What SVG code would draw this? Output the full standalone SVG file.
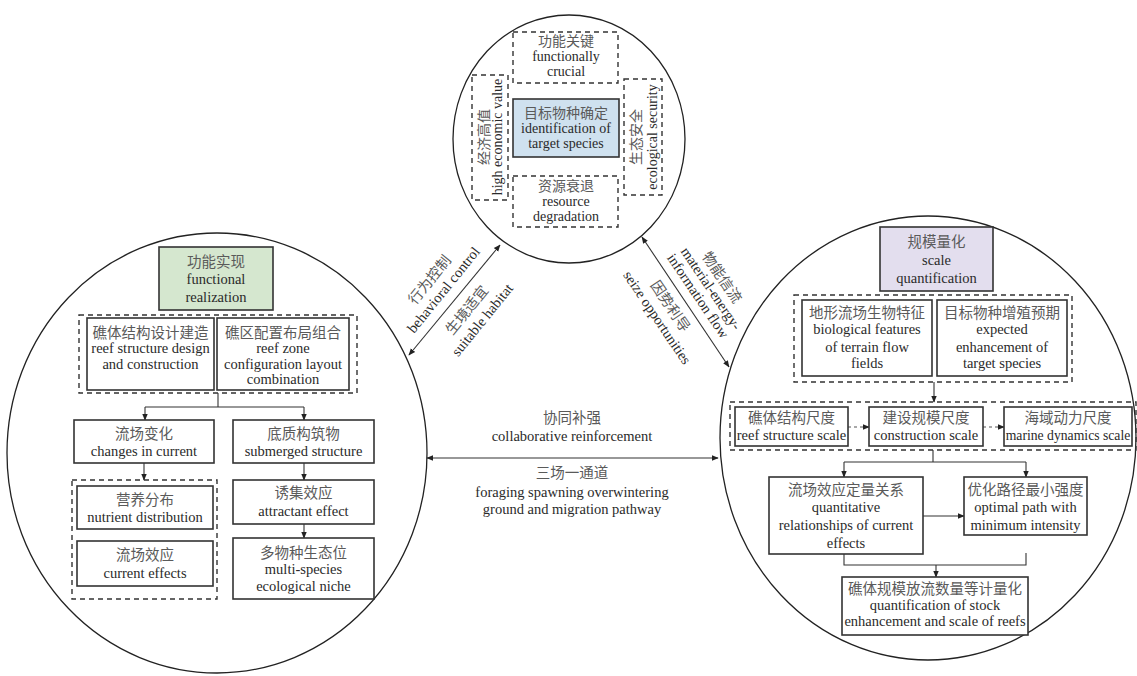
<svg xmlns="http://www.w3.org/2000/svg" width="1137" height="676" viewBox="0 0 1137 676">
<defs>
<marker id="ah" viewBox="0 0 10 10" refX="9" refY="5" markerWidth="7" markerHeight="7" markerUnits="userSpaceOnUse" orient="auto-start-reverse">
<path d="M0,1 L10,5 L0,9 Z" fill="#222"/>
</marker>
<style>
.circ{fill:none;stroke:#222;stroke-width:1.3}
.box{fill:#fff;stroke:#333;stroke-width:1.6}
.dash{fill:none;stroke:#333;stroke-width:1.4;stroke-dasharray:5,4}
.ln{fill:none;stroke:#333;stroke-width:1.1}
.dln{fill:none;stroke:#555;stroke-width:1.1;stroke-dasharray:3,3}
.zh{font-family:"Noto Sans CJK SC","Noto Sans CJK TC",sans-serif;font-size:14.5px;fill:#5a5a5a;text-anchor:middle}
.en{font-family:"Liberation Serif","DejaVu Serif",serif;font-size:14.5px;fill:#2a2a2a;text-anchor:middle}
.sm{font-size:14px}
</style>
</defs>
<rect width="1137" height="676" fill="#fff"/>

<g id="circles">
<ellipse class="circ" cx="569" cy="139" rx="116" ry="124"/>
<ellipse class="circ" cx="217" cy="453" rx="210" ry="220"/>
<ellipse class="circ" cx="928" cy="438" rx="208" ry="222"/>
</g>

<g id="connectors">
<path class="ln" d="M409,355 L500,245" marker-start="url(#ah)" marker-end="url(#ah)"/>
<path class="ln" d="M642,237 L729,367" marker-start="url(#ah)" marker-end="url(#ah)"/>
<path class="ln" d="M427,458 L718,458" marker-start="url(#ah)" marker-end="url(#ah)"/>
<path class="ln" d="M218,393 V407 M145,407 H304"/>
<path class="ln" d="M145,407 V420" marker-end="url(#ah)"/>
<path class="ln" d="M304,407 V420" marker-end="url(#ah)"/>
<path class="ln" d="M144,463 V480" marker-end="url(#ah)"/>
<path class="ln" d="M304,463 V480" marker-end="url(#ah)"/>
<path class="ln" d="M304,524 V538" marker-end="url(#ah)"/>
<path class="ln" d="M934,382 V402" marker-end="url(#ah)"/>
<path class="dln" d="M848,427 H869" marker-end="url(#ah)"/>
<path class="dln" d="M983,427 H1004" marker-end="url(#ah)"/>
<path class="ln" d="M933,450 V462 M844,462 H1026"/>
<path class="ln" d="M844,462 V477" marker-end="url(#ah)"/>
<path class="ln" d="M1026,462 V477" marker-end="url(#ah)"/>
<path class="ln" d="M923,516 H964" marker-end="url(#ah)"/>
<path class="ln" d="M844,554 V565 H1026 V553"/>
<path class="ln" d="M936,565 V577" marker-end="url(#ah)"/>
</g>

<g id="edge-labels">
<g transform="translate(454.5,300) rotate(-51)">
<text class="zh" x="0" y="-27">行为控制</text>
<text class="en" x="1" y="-10">behavioral control</text>
<text class="zh" x="0" y="21">生境适宜</text>
<text class="en" x="2" y="39">suitable habitat</text>
</g>
<g transform="translate(685.5,302) rotate(56)">
<text class="zh" x="0" y="-39">物能信流</text>
<text class="en" x="3" y="-24">material-energy-</text>
<text class="en" x="2" y="-9">information flow</text>
<text class="zh" x="-5" y="20">因势利导</text>
<text class="en" x="-3" y="37">seize opportunities</text>
</g>
<text class="zh" x="572" y="423">协同补强</text>
<text class="en" x="572" y="441">collaborative reinforcement</text>
<text class="zh" x="572" y="478">三场一通道</text>
<text class="en" x="572" y="497">foraging spawning overwintering</text>
<text class="en" x="572" y="514">ground and migration pathway</text>
</g>

<!-- top circle -->
<g id="functionally-crucial">
<rect class="dash" x="513" y="32" width="105" height="51"/>
<text class="zh sm" x="566" y="46">功能关键</text>
<text class="en sm" x="566" y="61">functionally</text>
<text class="en sm" x="566" y="76">crucial</text>
</g>
<g id="target-species">
<rect class="box" x="513" y="99" width="106" height="58" style="fill:#cfe1ef"/>
<text class="zh sm" x="566" y="118">目标物种确定</text>
<text class="en sm" x="566" y="133">identification of</text>
<text class="en sm" x="566" y="148">target species</text>
</g>
<g id="resource-degradation">
<rect class="dash" x="513" y="176" width="105" height="51"/>
<text class="zh sm" x="566" y="191">资源衰退</text>
<text class="en sm" x="566" y="206">resource</text>
<text class="en sm" x="566" y="221">degradation</text>
</g>
<g id="economic-value">
<rect class="dash" x="472" y="75" width="36" height="125"/>
<g transform="translate(490,137) rotate(-90)">
<text class="zh sm" x="0" y="-1">经济高值</text>
<text class="en sm" x="0" y="12">high economic value</text>
</g>
</g>
<g id="ecological-security">
<rect class="dash" x="624" y="79" width="38" height="116"/>
<g transform="translate(643,137) rotate(-90)">
<text class="zh sm" x="0" y="-2">生态安全</text>
<text class="en sm" x="0" y="14">ecological security</text>
</g>
</g>

<!-- left circle -->
<g id="functional-realization">
<rect class="box" x="159" y="247" width="114" height="63" style="fill:#d5e7cf"/>
<text class="zh" x="216" y="267">功能实现</text>
<text class="en" x="216" y="284">functional</text>
<text class="en" x="216" y="302">realization</text>
</g>
<g id="reef-design-group">
<rect class="dash" x="79" y="315" width="278" height="78"/>
</g>
<g id="reef-structure-design">
<rect class="box" x="87" y="318" width="127" height="72"/>
<text class="zh" x="150.5" y="338">礁体结构设计建造</text>
<text class="en" x="150.5" y="353">reef structure design</text>
<text class="en" x="150.5" y="369">and construction</text>
</g>
<g id="reef-zone-configuration">
<rect class="box" x="217" y="318" width="132" height="72"/>
<text class="zh" x="283" y="338">礁区配置布局组合</text>
<text class="en" x="283" y="353">reef zone</text>
<text class="en" x="283" y="369">configuration layout</text>
<text class="en" x="283" y="384">combination</text>
</g>
<g id="changes-in-current">
<rect class="box" x="74" y="420" width="140" height="43"/>
<text class="zh" x="144" y="439">流场变化</text>
<text class="en" x="144" y="456">changes in current</text>
</g>
<g id="submerged-structure">
<rect class="box" x="233" y="420" width="141" height="43"/>
<text class="zh" x="303.5" y="439">底质构筑物</text>
<text class="en" x="303.5" y="456">submerged structure</text>
</g>
<g id="current-group">
<rect class="dash" x="72" y="480" width="145" height="119"/>
</g>
<g id="nutrient-distribution">
<rect class="box" x="77" y="486" width="136" height="43"/>
<text class="zh" x="145" y="505">营养分布</text>
<text class="en" x="145" y="522">nutrient distribution</text>
</g>
<g id="current-effects">
<rect class="box" x="77" y="541" width="136" height="45"/>
<text class="zh" x="145" y="560">流场效应</text>
<text class="en" x="145" y="578">current effects</text>
</g>
<g id="attractant-effect">
<rect class="box" x="233" y="480" width="141" height="44"/>
<text class="zh" x="303.5" y="498">诱集效应</text>
<text class="en" x="303.5" y="516">attractant effect</text>
</g>
<g id="ecological-niche">
<rect class="box" x="233" y="538" width="141" height="61"/>
<text class="zh" x="303.5" y="558">多物种生态位</text>
<text class="en" x="303.5" y="574">multi-species</text>
<text class="en" x="303.5" y="591">ecological niche</text>
</g>

<!-- right circle -->
<g id="scale-quantification">
<rect class="box" x="880" y="227" width="113" height="64" style="fill:#e3deee"/>
<text class="zh" x="936.5" y="247">规模量化</text>
<text class="en" x="936.5" y="265">scale</text>
<text class="en" x="936.5" y="283">quantification</text>
</g>
<g id="features-group">
<rect class="dash" x="794" y="295" width="278" height="87"/>
</g>
<g id="terrain-features">
<rect class="box" x="802" y="300" width="130" height="76"/>
<text class="zh" x="867" y="318">地形流场生物特征</text>
<text class="en" x="867" y="334">biological features</text>
<text class="en" x="867" y="352">of terrain flow</text>
<text class="en" x="867" y="368">fields</text>
</g>
<g id="expected-enhancement">
<rect class="box" x="937" y="300" width="130" height="76"/>
<text class="zh" x="1002" y="318">目标物种增殖预期</text>
<text class="en" x="1002" y="334">expected</text>
<text class="en" x="1002" y="352">enhancement of</text>
<text class="en" x="1002" y="368">target species</text>
</g>
<g id="scale-group">
<rect class="dash" x="730" y="402" width="406" height="48"/>
</g>
<g id="reef-structure-scale">
<rect class="box" x="735" y="407" width="113" height="39"/>
<text class="zh" x="791.5" y="423">礁体结构尺度</text>
<text class="en" x="791.5" y="440">reef structure scale</text>
</g>
<g id="construction-scale">
<rect class="box" x="869" y="407" width="114" height="39"/>
<text class="zh" x="926" y="423">建设规模尺度</text>
<text class="en" x="926" y="440">construction scale</text>
</g>
<g id="marine-dynamics-scale">
<rect class="box" x="1004" y="407" width="128" height="39"/>
<text class="zh" x="1068" y="423">海域动力尺度</text>
<text class="en" x="1068" y="440" style="font-size:13.7px">marine dynamics scale</text>
</g>
<g id="quantitative-relationships">
<rect class="box" x="769" y="477" width="154" height="77"/>
<text class="zh" x="846" y="495">流场效应定量关系</text>
<text class="en" x="846" y="512">quantitative</text>
<text class="en" x="846" y="530">relationships of current</text>
<text class="en" x="846" y="548">effects</text>
</g>
<g id="optimal-path">
<rect class="box" x="964" y="477" width="123" height="58"/>
<text class="zh" x="1025.5" y="495">优化路径最小强度</text>
<text class="en" x="1025.5" y="512">optimal path with</text>
<text class="en" x="1025.5" y="530">minimum intensity</text>
</g>
<g id="stock-quantification">
<rect class="box" x="842" y="577" width="186" height="58"/>
<text class="zh" x="935" y="594">礁体规模放流数量等计量化</text>
<text class="en" x="935" y="610">quantification of stock</text>
<text class="en" x="935" y="626">enhancement and scale of reefs</text>
</g>
</svg>
